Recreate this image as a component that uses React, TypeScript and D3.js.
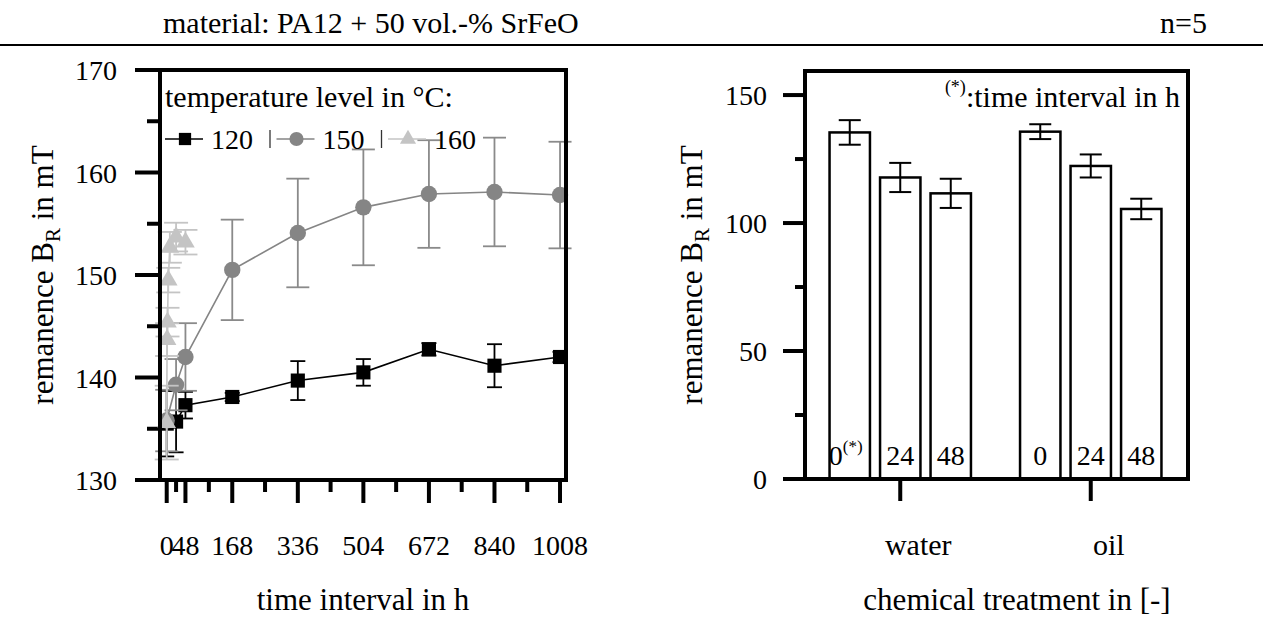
import * as d3 from "d3";

const FONT = "'Liberation Serif', 'DejaVu Serif', serif";

// left chart: remanence over time for three temperature levels
const temps = ["120", "150", "160"];
const times120 = [0, 24, 48, 168, 336, 504, 672, 840, 1008];
const values120 = [135.5, 135.7, 137.3, 138.1, 139.7, 140.5, 142.75, 141.15, 142.0];
const errors120 = [3.2, 3.0, 1.3, 0.4, 1.9, 1.3, 0.6, 2.1, 0.5];
const times150 = [0, 24, 48, 168, 336, 504, 672, 840, 1008];
const values150 = [135.8, 139.3, 142.0, 150.5, 154.1, 156.6, 157.9, 158.1, 157.8];
const errors150 = [3.0, 2.5, 3.3, 4.9, 5.3, 5.65, 5.25, 5.3, 5.2];
const times160 = [0, 1, 2, 4, 8, 24, 48];
const values160 = [135.6, 143.7, 145.4, 149.5, 152.7, 153.7, 153.2];
const errors160 = [3.6, 1.6, 1.4, 1.2, 1.5, 1.4, 1.2];
const majorTimes = [0, 48, 168, 336, 504, 672, 840, 1008];
const minorTimes = [24, 108, 252, 420, 588, 756, 924];
const leftMajorY = [130, 140, 150, 160, 170];
const leftMinorY = [135, 145, 155, 165];

// right chart: chemical treatment
const treatments = ["water", "oil"];
const intervals = ["0", "24", "48"];
const waterValues = [135.4, 117.8, 111.6];
const waterErrors = [4.8, 5.7, 5.7];
const oilValues = [135.7, 122.3, 105.5];
const oilErrors = [2.9, 4.5, 4.0];
const rightMajorY = [0, 50, 100, 150];
const rightMinorY = [25, 75, 125];

const L = { left: 160, right: 566, top: 70, bottom: 480 };
const R = { left: 805, right: 1188, top: 71, bottom: 479 };

export default function App() {
  const x = d3.scaleLinear().domain([-17.2, 1023.3]).range([L.left, L.right]);
  const y = d3.scaleLinear().domain([130, 170]).range([L.bottom, L.top]);

  const series = [
    { name: temps[0], t: times120, v: values120, e: errors120, color: "#000000", ebColor: "#000000", cap: 15, shape: d3.symbolSquare, size: 200 },
    { name: temps[1], t: times150, v: values150, e: errors150, color: "#858585", ebColor: "#8a8a8a", cap: 23, shape: d3.symbolCircle, size: 210 },
    { name: temps[2], t: times160, v: values160, e: errors160, color: "#c4c4c4", ebColor: "#c4c4c4", cap: 24, shape: d3.symbolTriangle, size: 150 },
  ];

  const yR = d3.scaleLinear().domain([0, 159.4]).range([R.bottom, R.top]);
  const xGroup = d3.scaleBand().domain(treatments).range([R.left, R.right - 2]);
  const groupData = [
    { name: "water", v: waterValues, e: waterErrors },
    { name: "oil", v: oilValues, e: oilErrors },
  ];

  return (
    <svg
      width={1263}
      height={617}
      style={{ position: "absolute", left: 0, top: 0, background: "#fff" }}
      fontFamily={FONT}
    >
      {/* header */}
      <text x={163} y={33} fontSize={30}>material: PA12 + 50 vol.-% SrFeO</text>
      <text x={1207} y={33} fontSize={30} textAnchor="end">n=5</text>
      <line x1={0} x2={1263} y1={45} y2={45} stroke="#000" strokeWidth={2} />

      {/* ---------- left chart ---------- */}
      <g>
        {leftMajorY.map((d) => (
          <g key={"ly" + d}>
            <line x1={L.left - 25} x2={L.left} y1={y(d)} y2={y(d)} stroke="#000" strokeWidth={4} />
            <text x={117} y={y(d) + 10} fontSize={28} textAnchor="end">{d}</text>
          </g>
        ))}
        {leftMinorY.map((d) => (
          <line key={"lmy" + d} x1={L.left - 13} x2={L.left} y1={y(d)} y2={y(d)} stroke="#000" strokeWidth={4} />
        ))}
        {majorTimes.map((d) => (
          <g key={"lx" + d}>
            <line x1={x(d)} x2={x(d)} y1={L.bottom} y2={L.bottom + 23} stroke="#000" strokeWidth={4} />
            <text x={x(d)} y={555} fontSize={28} textAnchor="middle">{d}</text>
          </g>
        ))}
        {minorTimes.map((d) => (
          <line key={"lmx" + d} x1={x(d)} x2={x(d)} y1={L.bottom} y2={L.bottom + 12} stroke="#000" strokeWidth={4} />
        ))}

        {series.map((s) => {
          const pts = s.t.map((t, i) => [x(t), y(s.v[i])] as [number, number]);
          const path = d3.line()(pts);
          return (
            <g key={"s" + s.name}>
              <path d={path || ""} fill="none" stroke={s.color} strokeWidth={1.6} />
              {s.t.map((t, i) => (
                <g key={i} stroke={s.ebColor} strokeWidth={1.8}>
                  <line x1={x(t)} x2={x(t)} y1={y(s.v[i] - s.e[i])} y2={y(s.v[i] + s.e[i])} />
                  <line x1={x(t) - s.cap / 2} x2={x(t) + s.cap / 2} y1={y(s.v[i] - s.e[i])} y2={y(s.v[i] - s.e[i])} />
                  <line x1={x(t) - s.cap / 2} x2={x(t) + s.cap / 2} y1={y(s.v[i] + s.e[i])} y2={y(s.v[i] + s.e[i])} />
                </g>
              ))}
              {s.t.map((t, i) => (
                <path
                  key={"m" + i}
                  d={d3.symbol().type(s.shape).size(s.size)() || ""}
                  transform={`translate(${x(t)},${y(s.v[i])})`}
                  fill={s.color}
                />
              ))}
            </g>
          );
        })}

        <rect
          x={L.left}
          y={L.top}
          width={L.right - L.left}
          height={L.bottom - L.top}
          fill="none"
          stroke="#000"
          strokeWidth={4}
        />

        {/* legend */}
        <text x={165} y={107} fontSize={30}>temperature level in °C:</text>
        {series.map((s, i) => {
          const x0 = 165 + i * 111.5;
          return (
            <g key={"lg" + s.name}>
              <line x1={x0} x2={x0 + 38} y1={139} y2={139} stroke={s.color} strokeWidth={1.6} />
              <path
                d={d3.symbol().type(s.shape).size(s.size * 0.75)() || ""}
                transform={`translate(${x0 + 20},139)`}
                fill={s.color}
              />
              <text x={x0 + 46} y={149} fontSize={28}>{s.name}</text>
              {i < series.length - 1 && (
                <line x1={x0 + 105} x2={x0 + 105} y1={130} y2={148} stroke="#333" strokeWidth={1.3} />
              )}
            </g>
          );
        })}

        <text
          transform={`translate(53,${(L.top + L.bottom) / 2}) rotate(-90)`}
          fontSize={31}
          textAnchor="middle"
        >
          remanence B<tspan fontSize={21} dy={7}>R</tspan><tspan dy={-7}> in mT</tspan>
        </text>
        <text x={(L.left + L.right) / 2} y={610} fontSize={31} textAnchor="middle">time interval in h</text>
      </g>

      {/* ---------- right chart ---------- */}
      <g>
        {rightMajorY.map((d) => (
          <g key={"ry" + d}>
            <line x1={R.left - 22} x2={R.left} y1={yR(d)} y2={yR(d)} stroke="#000" strokeWidth={4} />
            <text x={767} y={yR(d) + 10} fontSize={28} textAnchor="end">{d}</text>
          </g>
        ))}
        {rightMinorY.map((d) => (
          <line key={"rmy" + d} x1={R.left - 10} x2={R.left} y1={yR(d)} y2={yR(d)} stroke="#000" strokeWidth={4} />
        ))}

        {groupData.map((g) => {
          const center = (xGroup(g.name) || 0) + xGroup.bandwidth() / 2;
          const xi = d3
            .scaleBand()
            .domain(intervals)
            .range([center - 75.75, center + 75.75])
            .paddingInner(0.2)
            .paddingOuter(0.1);
          return (
            <g key={g.name}>
              <line x1={center} x2={center} y1={R.bottom} y2={R.bottom + 22} stroke="#000" strokeWidth={4} />
              <text x={center + 18} y={555} fontSize={30} textAnchor="middle">{g.name}</text>
              {intervals.map((iv, i) => {
                const bx = xi(iv) || 0;
                const bw = xi.bandwidth();
                const cx = bx + bw / 2;
                const lo = yR(g.v[i] - g.e[i]);
                const hi = yR(g.v[i] + g.e[i]);
                return (
                  <g key={iv}>
                    <rect
                      x={bx}
                      y={yR(g.v[i])}
                      width={bw}
                      height={R.bottom - yR(g.v[i])}
                      fill="#fff"
                      stroke="#000"
                      strokeWidth={2.5}
                    />
                    <g stroke="#000" strokeWidth={2}>
                      <line x1={cx} x2={cx} y1={lo} y2={hi} />
                      <line x1={cx - 11} x2={cx + 11} y1={lo} y2={lo} />
                      <line x1={cx - 11} x2={cx + 11} y1={hi} y2={hi} />
                    </g>
                    {g.name === "water" && iv === "0" ? (
                      <text x={cx - 4} y={465} fontSize={28} textAnchor="middle">
                        0<tspan fontSize={17} dy={-13}>(*)</tspan>
                      </text>
                    ) : (
                      <text x={cx} y={465} fontSize={28} textAnchor="middle">{iv}</text>
                    )}
                  </g>
                );
              })}
            </g>
          );
        })}

        <rect
          x={R.left}
          y={R.top}
          width={R.right - R.left}
          height={R.bottom - R.top}
          fill="none"
          stroke="#000"
          strokeWidth={4}
        />
        <text x={1180} y={107} fontSize={30} textAnchor="end">
          <tspan fontSize={18} dy={-14}>(*)</tspan>
          <tspan dy={14}>:time interval in h</tspan>
        </text>

        <text
          transform={`translate(702,${(R.top + R.bottom) / 2}) rotate(-90)`}
          fontSize={31}
          textAnchor="middle"
        >
          remanence B<tspan fontSize={21} dy={7}>R</tspan><tspan dy={-7}> in mT</tspan>
        </text>
        <text x={1017} y={610} fontSize={31} textAnchor="middle">chemical treatment in [-]</text>
      </g>
    </svg>
  );
}
